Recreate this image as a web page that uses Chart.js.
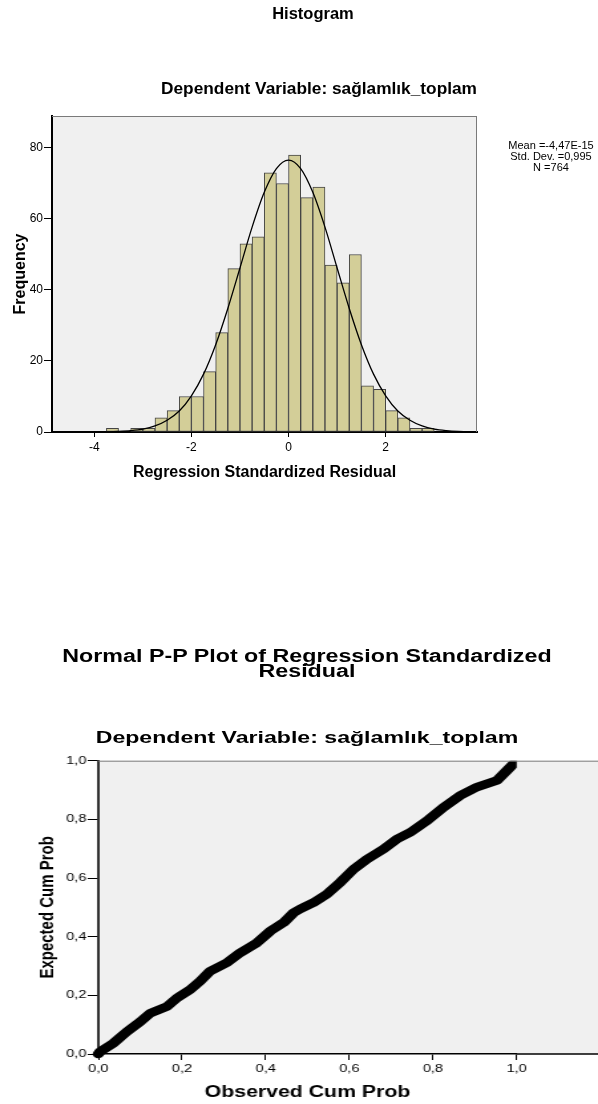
<!DOCTYPE html>
<html>
<head>
<meta charset="utf-8">
<script src="https://cdn.jsdelivr.net/npm/chart.js@4.4.1/dist/chart.umd.min.js"></script>
<style>
  html, body { margin: 0; padding: 0; background: #fff; }
  body { width: 598px; height: 1104px; position: relative; overflow: hidden;
         font-family: "Liberation Sans", Arial, sans-serif; color: #000; }
  .t { position: absolute; text-align: center; font-weight: bold; white-space: nowrap; }
  #histBox { position: absolute; left: 0; top: 0; width: 598px; height: 500px; }
  /* the P-P plot in the reference is stretched sideways */
  #ppBox { position: absolute; left: 0; top: 500px; width: 450px; height: 604px;
           transform: scaleX(1.3289); transform-origin: 0 0; }
  canvas { position: absolute; left: 0; top: 0; }
  #stats { position: absolute; left: 491px; width: 120px; top: 140.1px; font-size: 11px;
           line-height: 10.8px; text-align: center; white-space: nowrap; }
</style>
</head>
<body>

<div id="histBox">
  <canvas id="histChart" width="598" height="500"></canvas>
  <div class="t" style="left:213px; width:200px; top:2.6px; font-size:16.5px; line-height:20px;">Histogram</div>
  <div class="t" style="left:119px; width:400px; top:78.3px; font-size:17.3px; line-height:20px;">Dependent Variable: sağlamlık_toplam</div>
  <div id="stats"></div>
</div>

<div id="ppBox">
  <canvas id="ppChart" width="450" height="604"></canvas>
  <div class="t" style="left:31px; width:400px; top:149px; font-size:17.5px; line-height:14.8px;">Normal P-P Plot of Regression Standardized<br>Residual</div>
  <div class="t" style="left:31px; width:400px; top:227px; font-size:17.4px; line-height:20px;">Dependent Variable: sağlamlık_toplam</div>
</div>

<script>
/* ============================
   HISTOGRAM DATA
   ============================ */

const binWidth = 0.25;

// lower edge of each residual bin
const binStart = [-3.75, -3.5, -3.25, -3.0, -2.75, -2.5, -2.25, -2.0, -1.75, -1.5,
                  -1.25, -1.0, -0.75, -0.5, -0.25, 0, 0.25, 0.5, 0.75, 1.0,
                  1.25, 1.5, 1.75, 2.0, 2.25, 2.5, 2.75];

const frequency = [1, 0, 1, 1, 4, 6, 10, 10, 17, 28,
                   46, 53, 55, 73, 70, 78, 66, 69, 47, 42,
                   50, 13, 12, 6, 4, 1, 1];

// normal curve
const curveX = [-4.87, -4.5, -4.25, -4.0, -3.75, -3.5, -3.25, -3.0, -2.75, -2.5,
                -2.25, -2.0, -1.75, -1.5, -1.25, -1.0, -0.75, -0.5, -0.25, 0,
                0.25, 0.5, 0.75, 1.0, 1.25, 1.5, 1.75, 2.0, 2.25, 2.5,
                2.75, 3.0, 3.25, 3.5, 3.88];
const curveY = [0, 0, 0.01, 0.02, 0.06, 0.16, 0.37, 0.8, 1.7, 3.3,
                5.9, 10.2, 16.3, 24.6, 34.8, 46.2, 57.7, 67.5, 74.2, 76.6,
                74.2, 67.5, 57.7, 46.2, 34.8, 24.6, 16.3, 10.2, 5.9, 3.3,
                1.7, 0.8, 0.37, 0.16, 0.04];

const statLines = ["Mean =-4,47E-15", "Std. Dev. =0,995", "N =764"];

/* ============================
   P-P PLOT DATA
   ============================ */

const observedCum = [0.0, 0.004, 0.036, 0.068, 0.10, 0.124, 0.164, 0.188, 0.219, 0.243,
                     0.267, 0.307, 0.339, 0.379, 0.411, 0.443, 0.467, 0.483, 0.514, 0.546,
                     0.578, 0.610, 0.642, 0.682, 0.714, 0.746, 0.786, 0.825, 0.865, 0.905,
                     0.953, 0.977, 1.0];
const expectedCum = [0.0, 0.008, 0.037, 0.076, 0.11, 0.139, 0.162, 0.191, 0.219, 0.248,
                     0.282, 0.311, 0.345, 0.379, 0.419, 0.448, 0.482, 0.495, 0.516, 0.545,
                     0.585, 0.630, 0.664, 0.699, 0.733, 0.756, 0.796, 0.841, 0.881, 0.910,
                     0.933, 0.967, 1.0];

/* ============================
   COMMON SETTINGS
   ============================ */

Chart.defaults.font.family = '"Liberation Sans", Arial, sans-serif';
Chart.defaults.color = "#000";

document.getElementById("stats").innerHTML = statLines.join("<br>");

// grey plot background + thin frame, SPSS style
const plotFrame = {
  id: "plotFrame",
  beforeDraw(chart, args, opts) {
    const { ctx, chartArea: a } = chart;
    const right = opts.extendTo || a.right;
    ctx.save();
    ctx.fillStyle = "#f0f0f0";
    ctx.fillRect(a.left, a.top, right - a.left, a.bottom - a.top);
    ctx.restore();
  },
  afterDraw(chart, args, opts) {
    const { ctx, chartArea: a } = chart;
    const right = opts.extendTo || a.right;
    ctx.save();
    ctx.strokeStyle = "#7a7a7a";
    ctx.lineWidth = 1;
    ctx.beginPath();
    ctx.moveTo(a.left, a.top + 0.5);
    ctx.lineTo(right, a.top + 0.5);
    if (!opts.extendTo) {
      ctx.moveTo(a.right - 0.5, a.top);
      ctx.lineTo(a.right - 0.5, a.bottom);
    }
    ctx.stroke();
    if (opts.extendTo) {
      // x axis line keeps going past 1,0
      ctx.strokeStyle = "#000";
      ctx.lineWidth = 1.5;
      ctx.beginPath();
      ctx.moveTo(a.right, a.bottom);
      ctx.lineTo(right, a.bottom);
      ctx.stroke();
    }
    ctx.restore();
  }
};

const commaLabel = v => v.toFixed(1).replace(".", ",");

/* ============================
   HISTOGRAM
   ============================ */

new Chart(document.getElementById("histChart"), {
  type: "bar",
  data: {
    datasets: [
      {
        type: "line",
        data: curveX.map((x, i) => ({ x: x, y: curveY[i] })),
        borderColor: "#000",
        borderWidth: 1.3,
        pointRadius: 0,
        cubicInterpolationMode: "monotone",
        order: 0
      },
      {
        data: binStart.map((x, i) => ({ x: x + binWidth / 2, y: frequency[i] })),
        backgroundColor: "#d3ce98",
        borderColor: "#454545",
        borderWidth: 1,
        borderSkipped: false,
        barPercentage: 1,
        categoryPercentage: 1,
        order: 1
      }
    ]
  },
  options: {
    responsive: false,
    animation: false,
    devicePixelRatio: 1,
    layout: { padding: { left: 0, top: 116, right: 121, bottom: 0 } },
    plugins: { legend: { display: false }, tooltip: { enabled: false }, plotFrame: {} },
    scales: {
      x: {
        type: "linear",
        min: -4.87,
        max: 3.88,
        offset: false,
        grid: { drawOnChartArea: false, tickLength: 5, color: "#000", offset: false },
        border: { color: "#000", width: 2 },
        ticks: { stepSize: 2, includeBounds: false, padding: 3.3, font: { size: 12 }, maxRotation: 0 },
        title: {
          display: true,
          text: "Regression Standardized Residual",
          font: { size: 16, weight: "bold" },
          padding: { top: 0, bottom: 17.9 }
        },
        afterFit: s => { s.height = 68; }
      },
      y: {
        min: 0,
        max: 89,
        grid: { drawOnChartArea: false, tickLength: 8, color: "#000" },
        border: { color: "#000", width: 2 },
        ticks: { stepSize: 20, includeBounds: false, padding: 1, font: { size: 12 } },
        title: {
          display: true,
          text: "Frequency",
          font: { size: 16, weight: "bold" },
          padding: { top: 10.5, bottom: 0 }
        },
        afterFit: s => { s.width = 52; }
      }
    }
  },
  plugins: [plotFrame]
});

/* ============================
   NORMAL P-P PLOT
   ============================ */

new Chart(document.getElementById("ppChart"), {
  type: "line",
  data: {
    datasets: [{
      data: observedCum.map((x, i) => ({ x: x, y: expectedCum[i] })),
      borderColor: "#000",
      borderWidth: 8.5,
      borderJoinStyle: "round",
      borderCapStyle: "round",
      pointRadius: 0,
      tension: 0,
      clip: { left: 5, bottom: 5, top: 0, right: 0 }
    }]
  },
  options: {
    responsive: false,
    animation: false,
    devicePixelRatio: 1,
    layout: { padding: { left: 0, top: 260.7, right: 61.2, bottom: 0 } },
    plugins: { legend: { display: false }, tooltip: { enabled: false }, plotFrame: { extendTo: 450 } },
    scales: {
      x: {
        type: "linear",
        min: 0,
        max: 1,
        grid: { drawOnChartArea: false, tickLength: 6, color: "#000" },
        border: { color: "#000", width: 1.5 },
        ticks: { stepSize: 0.2, padding: 2.6, font: { size: 11 }, callback: commaLabel, maxRotation: 0 },
        title: {
          display: true,
          text: "Observed Cum Prob",
          font: { size: 16, weight: "bold" },
          padding: { top: 0, bottom: 2.2 }
        },
        afterFit: s => { s.height = 50; }
      },
      y: {
        type: "linear",
        min: 0,
        max: 1,
        grid: { drawOnChartArea: false, tickLength: 8, color: "#000" },
        border: { color: "#333", width: 2 },
        ticks: { stepSize: 0.2, padding: 1, font: { size: 11 }, callback: commaLabel },
        title: {
          display: true,
          text: "Expected Cum Prob",
          font: { size: 15, weight: "bold" },
          padding: { top: 26.5, bottom: 0 }
        },
        afterFit: s => { s.width = 74; }
      }
    }
  },
  plugins: [plotFrame]
});
</script>
</body>
</html>
